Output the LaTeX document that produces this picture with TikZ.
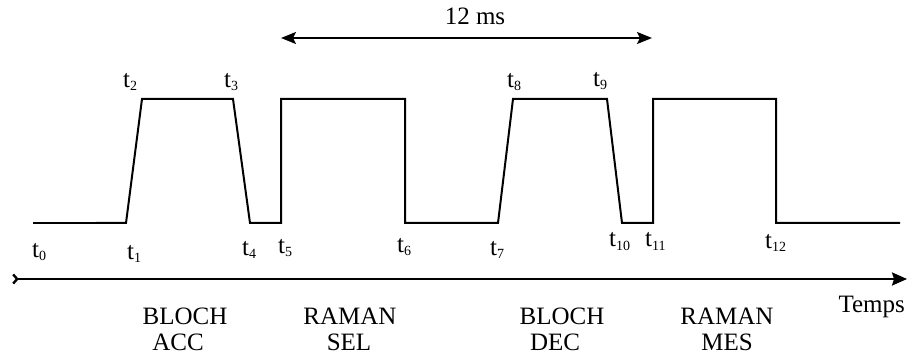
\documentclass[tikz,border=0pt]{standalone}
\usepackage{fontspec}
\setmainfont{Liberation Serif}
\usetikzlibrary{arrows.meta}
\newcommand{\tlab}[1]{t\raisebox{-3pt}{\fontsize{14}{14}\selectfont #1}}
\begin{document}
\begin{tikzpicture}[x=1pt,y=-1pt,
  tlbl/.style={inner sep=0pt, anchor=base west, font=\fontsize{25}{28}\selectfont},
  txt/.style={inner sep=0pt, anchor=base, font=\fontsize{25}{28}\selectfont},
  sig/.style={line width=2pt, line join=miter},
  thin/.style={line width=1.2pt}]
\useasboundingbox (0,0) rectangle (910,358);
% signal
\coordinate (s0) at (33,223);
\coordinate (s1) at (96,223);
\draw[thin] (s0) -- (s1);
\draw[sig] (s1) -- (126,223) -- (142,99) -- (233,99) -- (250,223) -- (281,223)
  -- (281,99) -- (405,99) -- (405,223) -- (498,223) -- (513,99) -- (607,99)
  -- (622,223) -- (653,223) -- (653,99) -- (776,99) -- (776,223) -- (900,223);
% time labels
\node[tlbl] (t0) at (32,257) {\tlab{0}};
\node[tlbl] (t1) at (127,259) {\tlab{1}};
\node[tlbl] (t2) at (123,88) {\tlab{2}};
\node[tlbl] (t3) at (224,88) {\tlab{3}};
\node[tlbl] (t4) at (242,255) {\tlab{4}};
\node[tlbl] (t5) at (278,253) {\tlab{5}};
\node[tlbl] (t6) at (397,252) {\tlab{6}};
\node[tlbl] (t7) at (490,255) {\tlab{7}};
\node[tlbl] (t8) at (507,88) {\tlab{8}};
\node[tlbl] (t9) at (593,87) {\tlab{9}};
\node[tlbl] (t10) at (609,247) {\tlab{10}};
\node[tlbl] (t11) at (645,247) {\tlab{11}};
\node[tlbl] (t12) at (765,248) {\tlab{12}};
% 12 ms arrow
\coordinate (m1) at (281,38);
\coordinate (m2) at (652,38);
\draw[line width=2pt, {Stealth[length=15pt,width=12pt,inset=3pt]}-{Stealth[length=15pt,width=12pt,inset=3pt]}] (m1) -- (m2);
\node[txt] (ms) at (475,25) {12 ms};
% time axis
\coordinate (a1) at (12,279);
\coordinate (a2) at (907,279);
\draw[line width=2.4pt, {Straight Barb[reversed,length=4pt,width=9pt]}-{Stealth[length=15pt,width=13pt,inset=2pt]}] (a1) -- (a2);
\node[txt, anchor=base east] (temps) at (905,312) {Temps};
% phase labels
\node[txt] (b1a) at (185,324) {BLOCH};
\node[txt] (b1b) at (178,350) {ACC};
\node[txt] (r1a) at (350,324) {RAMAN};
\node[txt] (r1b) at (349,350) {SEL};
\node[txt] (b2a) at (562,324) {BLOCH};
\node[txt] (b2b) at (555,350) {DEC};
\node[txt] (r2a) at (727,324) {RAMAN};
\node[txt] (r2b) at (727,350) {MES};
\end{tikzpicture}
\end{document}
